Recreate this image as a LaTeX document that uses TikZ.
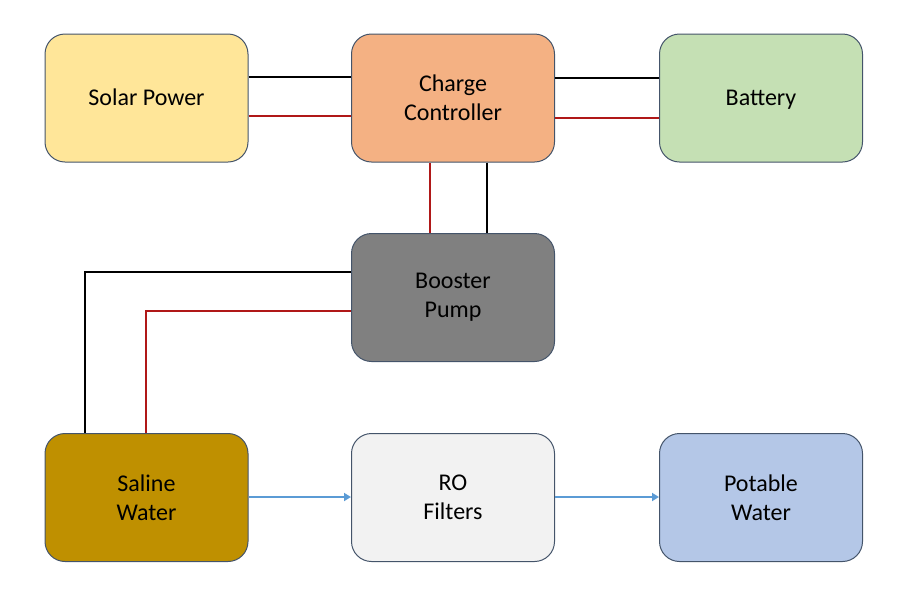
\documentclass[tikz,border=0pt]{standalone}
\usepackage{fontspec}
\setmainfont{Carlito}
\usetikzlibrary{arrows.meta}
\definecolor{cSolar}{HTML}{FFE699}
\definecolor{cCC}{HTML}{F4B183}
\definecolor{cBat}{HTML}{C5E0B4}
\definecolor{cPump}{HTML}{808080}
\definecolor{cSal}{HTML}{BF9000}
\definecolor{cRO}{HTML}{F2F2F2}
\definecolor{cPot}{HTML}{B4C7E7}
\definecolor{cEdge}{HTML}{44546A}
\definecolor{cRed}{HTML}{B01818}
\definecolor{cBlue}{HTML}{5B9BD5}
\tikzset{
  blockbox/.style={draw=cEdge, line width=1pt, rounded corners=20pt, minimum width=203pt, minimum height=128pt, align=center, font=\fontsize{24}{29}\selectfont, inner sep=0pt},
  blackwire/.style={line width=2pt, black},
  redwire/.style={line width=2pt, cRed},
  flow/.style={line width=2pt, cBlue, -{Triangle[length=7pt,width=8pt]}}
}
\begin{document}
\begin{tikzpicture}[x=1pt,y=-1pt]
\useasboundingbox (0,0) rectangle (903,598);
\node[blockbox, fill=cSolar] (solar) at (146.5,98) {\raisebox{-2pt}[\height][\depth]{\strut Solar Power}};
\node[blockbox, fill=cCC] (cc) at (453,98) {Charge\\Controller};
\node[blockbox, fill=cBat] (bat) at (761,98) {\raisebox{-2pt}[\height][\depth]{\strut Battery}};
\node[blockbox, fill=cPump] (pump) at (453,297.5) {Booster\\Pump};
\node[blockbox, fill=cSal] (sal) at (146.5,497.5) {Saline\\Water};
\node[blockbox, fill=cRO] (ro) at (453,497.5) {RO\\Filters};
\node[blockbox, fill=cPot] (pot) at (761,497.5) {Potable\\Water};
% wires top row
\draw[blackwire] (solar.east |- 0,77) -- (cc.west |- 0,77);
\draw[redwire] (solar.east |- 0,116) -- (cc.west |- 0,116);
\draw[blackwire] (cc.east |- 0,78) -- (bat.west |- 0,78);
\draw[redwire] (cc.east |- 0,118) -- (bat.west |- 0,118);
% cc to pump
\draw[redwire] (cc.south -| 430,0) -- (pump.north -| 430,0);
\draw[blackwire] (cc.south -| 487,0) -- (pump.north -| 487,0);
% pump to saline
\draw[blackwire] (pump.west |- 0,272) -| (sal.north -| 85,0);
\draw[redwire] (pump.west |- 0,311) -| (sal.north -| 146,0);
% flow
\draw[flow] (sal.east |- 0,497) -- (ro.west |- 0,497);
\draw[flow] (ro.east |- 0,497) -- (pot.west |- 0,497);
\end{tikzpicture}
\end{document}
